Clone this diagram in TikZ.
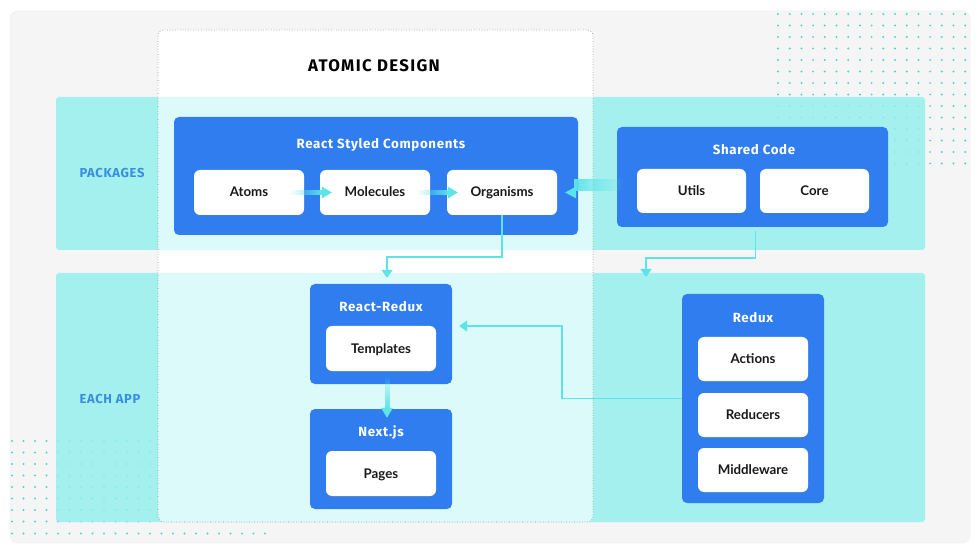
\documentclass[tikz,border=0pt]{standalone}
\usepackage{fontspec}
\setmainfont{Lato}
\newfontfamily\firafont[LetterSpace=5]{Fira Sans}
\newfontfamily\firatitle[LetterSpace=8]{Fira Sans}
\usetikzlibrary{arrows.meta,calc,fadings,shadows}
\definecolor{bgc}{HTML}{F5F5F6}
\definecolor{boxblue}{HTML}{2F7DEF}
\definecolor{labelblue}{HTML}{3A8EE0}
\definecolor{bandc}{HTML}{95F0EE}
\definecolor{conncol}{HTML}{5CE4E8}
\definecolor{dotcol}{HTML}{4FD3CC}
\tikzfading[name=fadeinE, left color=transparent!100, right color=transparent!0]
\tikzfading[name=fadeinW, left color=transparent!0, right color=transparent!100]
\tikzfading[name=fadeinS, top color=transparent!100, bottom color=transparent!0]
\begin{document}
\begin{tikzpicture}[x=1pt,y=-1pt,
  bluebox/.style={fill=boxblue, rounded corners=5pt, inner sep=0pt},
  wbox/.style={fill=white, rounded corners=6pt, minimum width=110pt, minimum height=45pt, inner sep=0pt, text height=9pt, text depth=0pt, font=\bfseries\fontsize{13.3}{15}\selectfont, text=black!90, drop shadow={shadow xshift=0pt, shadow yshift=-1.5pt, opacity=0.18}},
  btitle/.style={text=white, inner sep=0pt, text height=9pt, text depth=0pt, font=\firafont\bfseries\fontsize{13.3}{15}\selectfont},
  sidelabel/.style={text=labelblue, inner sep=0pt, text height=9pt, text depth=0pt, font=\firafont\bfseries\fontsize{13}{15}\selectfont},
  conn/.style={draw=conncol, line width=1.7pt, -{Triangle[width=11pt,length=8pt]}}
]
\useasboundingbox (0,0) rectangle (980,553);
\fill[white] (0,0) rectangle (980,553);
\fill[bgc, draw=black!7, rounded corners=8pt] (10,11) rectangle (970,543);
% dots
\foreach \i in {0,...,16} \foreach \j in {0,...,13} \fill[dotcol] (778+11.7*\i, 14+11.5*\j) circle (1.1pt);
\foreach \i in {0,...,12} \foreach \j in {0,...,7} \fill[dotcol] (12+11.5*\i, 441+11.5*\j) circle (1.1pt);
\foreach \i in {0,...,22} \fill[dotcol] (12+11.5*\i, 533.5) circle (1.1pt);
% atomic design box and bands
\fill[white, rounded corners=6pt] (158,30) rectangle (593,522);
\fill[bandc, opacity=0.85, rounded corners=3pt] (56,97) rectangle (925,250);
\fill[bandc, opacity=0.85, rounded corners=3pt] (56,273) rectangle (925,522);
\draw[draw=black!45, dotted, line width=0.6pt, fill=white, fill opacity=0.62, rounded corners=6pt] (158,30) rectangle (593,522);
% labels
\node[font=\firatitle\bfseries\fontsize{16.8}{18}\selectfont, inner sep=0pt, text height=11.5pt, text depth=0pt] (title) at (374,66) {ATOMIC DESIGN};
\node[sidelabel] (pk) at (112,173) {PACKAGES};
\node[sidelabel] (ea) at (110,399) {EACH APP};
% React Styled Components
\node[bluebox, minimum width=404pt, minimum height=118pt] (rsc) at (376,176) {};
\node[btitle] (rsct) at (381,144) {React Styled Components};
\node[wbox] (atoms) at (249,192.5) {Atoms};
\node[wbox] (molecules) at (375,192.5) {Molecules};
\node[wbox] (organisms) at (502,192.5) {Organisms};
% Shared code
\node[bluebox, minimum width=271pt, minimum height=100pt] (shared) at (752.5,177) {};
\node[btitle] (sharedt) at (754,150) {Shared Code};
\node[wbox, minimum width=109pt, minimum height=44pt] (utils) at (691.5,191) {Utils};
\node[wbox, minimum width=109pt, minimum height=44pt] (core) at (814.5,191) {Core};
% React-Redux
\node[bluebox, minimum width=142pt, minimum height=100pt] (reactredux) at (381,334) {};
\node[btitle] (reactreduxt) at (381,307) {React-Redux};
\node[wbox] (templates) at (381,348.5) {Templates};
% Next.js
\node[bluebox, minimum width=142pt, minimum height=100pt] (nextjs) at (381,459) {};
\node[btitle] (nextjst) at (381,432) {Next.js};
\node[wbox] (pages) at (381,473.5) {Pages};
% Redux
\node[bluebox, minimum width=142pt, minimum height=209pt] (redux) at (753,398.5) {};
\node[btitle] (reduxt) at (753,318) {Redux};
\node[wbox, minimum height=44pt] (actions) at (753,359) {Actions};
\node[wbox, minimum height=44pt] (reducers) at (753,415) {Reducers};
\node[wbox, minimum height=44pt] (middleware) at (753,470) {Middleware};
% gradient arrows
\fill[conncol, path fading=fadeinE] ($(molecules.west)+(-30,-2.2)$) rectangle ($(molecules.west)+(3,2.2)$);
\fill[conncol] ($(molecules.west)+(2,-6)$) -- ($(molecules.west)+(12,0)$) -- ($(molecules.west)+(2,6)$) -- cycle;
\fill[conncol, path fading=fadeinE] ($(organisms.west)+(-30,-2.2)$) rectangle ($(organisms.west)+(2,2.2)$);
\fill[conncol] ($(organisms.west)+(1,-6)$) -- ($(organisms.west)+(11,0)$) -- ($(organisms.west)+(1,6)$) -- cycle;
\fill[conncol, path fading=fadeinW] ($(organisms.east)+(17,-1.8)$) rectangle ($(shared.west)+(6,1.8)$);
\fill[conncol] ($(organisms.east)+(19,-6)$) -- ($(organisms.east)+(8,0)$) -- ($(organisms.east)+(19,6)$) -- cycle;
\fill[conncol, path fading=fadeinS] ($(templates.south)+(3.5,4)$) rectangle ($(nextjs.north)+(8.5,0)$);
\fill[conncol] ($(nextjs.north)+(0,-1)$) -- ($(nextjs.north)+(6,9)$) -- ($(nextjs.north)+(12,-1)$) -- cycle;
% connectors
\draw[conn, shorten >=6pt] (organisms.south) -- ++(0,42) -| ([xshift=6pt]reactredux.north);
\coordinate (sharedend) at (646,277);
\draw[conn, shorten <=4pt] ([xshift=3pt]shared.south) -- ++(0,31) -| (sharedend);
\draw[conn, shorten >=7pt] (redux.west) -- ++(-120,0) |- ([yshift=8pt]reactredux.east);
\end{tikzpicture}
\end{document}
